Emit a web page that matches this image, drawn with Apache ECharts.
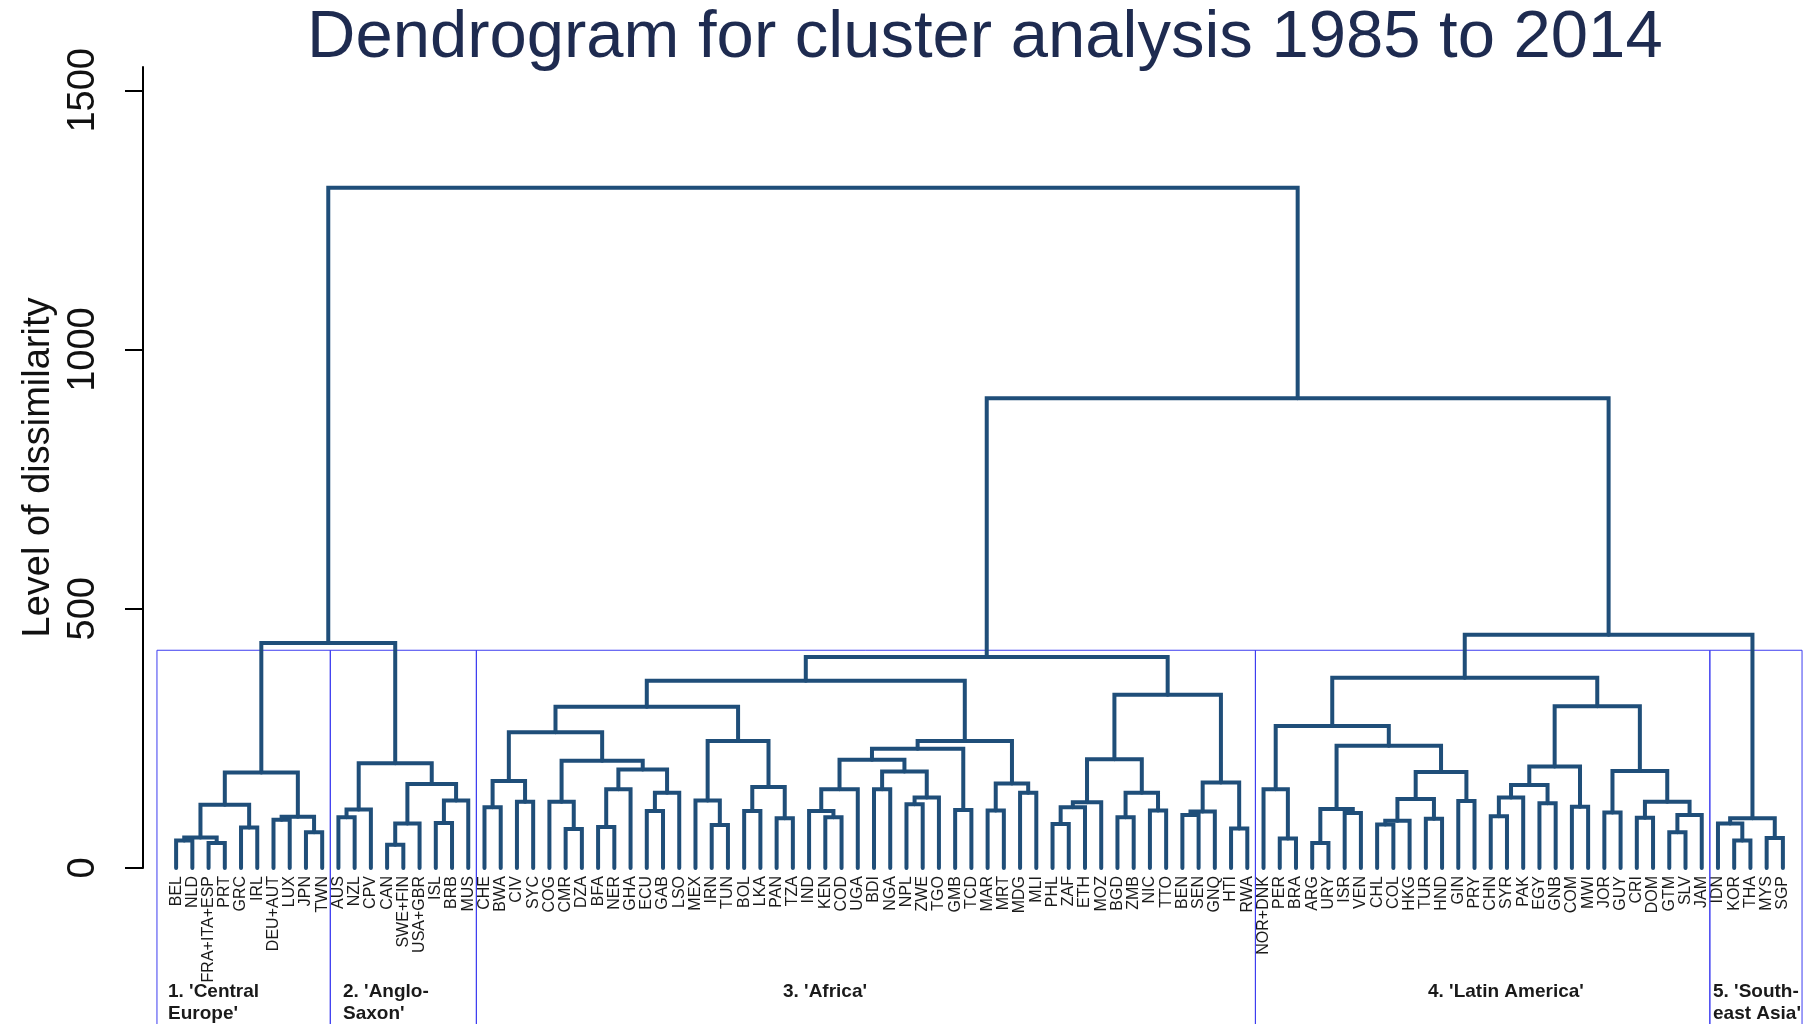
<!DOCTYPE html>
<html>
<head>
<meta charset="utf-8">
<title>Dendrogram for cluster analysis 1985 to 2014</title>
<script src="https://cdn.jsdelivr.net/npm/echarts@6.0.0/dist/echarts.min.js"></script>
<style>
html,body{margin:0;padding:0;background:#fff;}
#container{width:1810px;height:1024px;}
</style>
</head>
<body>
<div id="container"></div>
<script>
// leaves in plotted order
var leaves = [
  'BEL','NLD','FRA+ITA+ESP','PRT','GRC','IRL','DEU+AUT','LUX','JPN','TWN',
  'AUS','NZL','CPV','CAN','SWE+FIN','USA+GBR','ISL','BRB','MUS',
  'CHE','BWA','CIV','SYC','COG','CMR','DZA','BFA','NER','GHA','ECU','GAB','LSO','MEX','IRN','TUN','BOL','LKA','PAN','TZA',
  'IND','KEN','COD','UGA','BDI','NGA','NPL','ZWE','TGO','GMB','TCD','MAR','MRT','MDG','MLI',
  'PHL','ZAF','ETH','MOZ','BGD','ZMB','NIC','TTO','BEN','SEN','GNQ','HTI','RWA',
  'NOR+DNK','PER','BRA','ARG','URY','ISR','VEN','CHL','COL','HKG','TUR','HND','GIN','PRY',
  'CHN','SYR','PAK','EGY','GNB','COM','MWI','JOR','GUY','CRI','DOM','GTM','SLV','JAM',
  'IDN','KOR','THA','MYS','SGP'
];

// merges: [left, right, height]; a string is a leaf, a number is an earlier merge
var merges = [
  ['BEL','NLD',53], ['FRA+ITA+ESP','PRT',48], [0,1,59], ['GRC','IRL',78], [2,3,122],
  ['DEU+AUT','LUX',93], ['JPN','TWN',69], [5,6,99], [4,7,184],
  ['AUS','NZL',98], [9,'CPV',113], ['CAN','SWE+FIN',45], [11,'USA+GBR',86],
  ['ISL','BRB',87], [13,'MUS',130], [12,14,162], [10,15,202], [8,16,434],
  ['CHE','BWA',117], ['CIV','SYC',128], [18,19,168], ['CMR','DZA',75], ['COG',21,128],
  ['BFA','NER',79], [23,'GHA',152], ['ECU','GAB',110], [25,'LSO',145], [24,26,190],
  [22,27,207], [20,28,262], ['IRN','TUN',83], ['MEX',30,130], ['BOL','LKA',110],
  ['PAN','TZA',96], [32,33,156], [31,34,245], [29,35,311],
  ['KEN','COD',98], ['IND',37,110], [38,'UGA',152], ['BDI','NGA',152], ['NPL','ZWE',123],
  [41,'TGO',136], [40,42,186], [39,43,209], ['GMB','TCD',112], [44,45,230],
  ['MAR','MRT',111], ['MDG','MLI',145], [47,48,163], [46,49,245], [36,50,361],
  ['PHL','ZAF',85], [52,'ETH',117], [53,'MOZ',127], ['BGD','ZMB',98], ['NIC','TTO',111],
  [55,56,145], [54,57,210], ['BEN','SEN',102], [59,'GNQ',109], ['HTI','RWA',76],
  [60,61,165], [58,62,334], [51,63,407],
  ['PER','BRA',57], ['NOR+DNK',65,152], ['ARG','URY',48], ['ISR','VEN',106], [67,68,114],
  ['CHL','COL',84], [70,'HKG',91], ['TUR','HND',95], [71,72,133], ['GIN','PRY',129],
  [73,74,185], [69,75,236], [66,76,274],
  ['CHN','SYR',100], [78,'PAK',136], ['EGY','GNB',125], [79,80,160], ['COM','MWI',118],
  [81,82,196], ['JOR','GUY',107], ['CRI','DOM',97], ['GTM','SLV',69], [86,'JAM',102],
  [85,87,128], [84,88,187], [83,89,312], [77,90,367],
  ['KOR','THA',53], ['IDN',92,86], ['MYS','SGP',58], [93,94,96], [91,95,450],
  [64,96,906], [17,97,1312]
];

var clusterNames = ["1. 'Central\nEurope'", "2. 'Anglo-\nSaxon'", "3. 'Africa'", "4. 'Latin America'", "5. 'South-\neast Asia'"];
var clusterSizes = [10, 9, 48, 28, 5];
var cutHeight = 420;
var yTicks = [0, 500, 1000, 1500];

// dendrogram layout: leaf index on x, merge height on y
var leafPos = {};
leaves.forEach(function (n, i) { leafPos[n] = i; });
var nodeX = [], nodeH = [], links = [];
function pos(ref) {
  return typeof ref === 'string' ? [leafPos[ref], 0] : [nodeX[ref], nodeH[ref]];
}
merges.forEach(function (m, k) {
  var a = pos(m[0]), b = pos(m[1]);
  nodeX[k] = (a[0] + b[0]) / 2;
  nodeH[k] = m[2];
  links.push([a[0], a[1], b[0], b[1], m[2]]);
});

var boxes = [], start = 0;
clusterSizes.forEach(function (s) {
  boxes.push([start - 0.5, start + s - 0.5]);
  start += s;
});

var lineColor = '#1f4e79';
var boxPad = 0.68;
var clusterFont = 'bold 19px Liberation Sans';

var dom = document.getElementById('container');
var myChart = echarts.init(dom);
var option = {
  backgroundColor: '#fff',
  animation: false,
  title: {
    text: 'Dendrogram for cluster analysis 1985 to 2014',
    left: 302,
    top: 0,
    textStyle: { fontFamily: 'Liberation Sans', fontSize: 67, fontWeight: 'normal', color: '#1e2b50' }
  },
  grid: { left: 168, right: 19, top: 67, bottom: 156 },
  xAxis: [{
    type: 'category',
    data: leaves,
    boundaryGap: true,
    axisLine: { show: false },
    axisTick: { show: false },
    axisLabel: { interval: 0, rotate: 90, margin: 8, fontSize: 16, fontFamily: 'Liberation Sans', color: '#1a1a1a' }
  }, {
    type: 'value', min: -0.5, max: 99.5, show: false
  }],
  yAxis: {
    type: 'value',
    min: 0,
    max: 1545,
    offset: 25,
    name: 'Level of dissimilarity',
    nameLocation: 'middle',
    nameRotate: 90,
    nameGap: 83,
    nameTextStyle: { fontFamily: 'Liberation Sans', fontSize: 38, color: '#111' },
    axisLine: { show: true, onZero: false, lineStyle: { color: '#000', width: 2 } },
    axisTick: { show: true, length: 18, lineStyle: { color: '#000', width: 2 }, customValues: yTicks },
    axisLabel: {
      rotate: 90, margin: 40, fontSize: 38, fontFamily: 'Liberation Sans', color: '#111',
      customValues: yTicks,
      formatter: function (v) { return yTicks.indexOf(v) >= 0 ? String(v) : ''; }
    },
    splitLine: { show: false }
  },
  series: [{
    type: 'custom',
    xAxisIndex: 1,
    z: 1,
    data: boxes,
    encode: { x: [0, 1] },
    renderItem: function (params, api) {
      var x0 = api.value(0) - (params.dataIndex === 0 ? boxPad : 0);
      var x1 = api.value(1) + (params.dataIndex === boxes.length - 1 ? boxPad : 0);
      var p0 = api.coord([x0, cutHeight]);
      var p1 = api.coord([x1, -400]);
      return {
        type: 'rect',
        shape: { x: p0[0], y: p0[1], width: p1[0] - p0[0], height: p1[1] - p0[1] },
        style: { fill: null, stroke: '#3c3cf0', lineWidth: 1 }
      };
    }
  }, {
    type: 'custom',
    xAxisIndex: 1,
    z: 2,
    data: links,
    encode: { x: [0, 2], y: [1, 3, 4] },
    renderItem: function (params, api) {
      var pts = [
        api.coord([api.value(0), api.value(1)]),
        api.coord([api.value(0), api.value(4)]),
        api.coord([api.value(2), api.value(4)]),
        api.coord([api.value(2), api.value(3)])
      ];
      return {
        type: 'polyline',
        shape: { points: pts },
        style: { stroke: lineColor, lineWidth: 4, fill: null, lineJoin: 'miter', lineCap: 'round' }
      };
    }
  }],
  graphic: [
    { type: 'text', left: 168, top: 981, style: { text: clusterNames[0], font: clusterFont, lineHeight: 22, fill: '#1a1a1a' } },
    { type: 'text', left: 343, top: 981, style: { text: clusterNames[1], font: clusterFont, lineHeight: 22, fill: '#1a1a1a' } },
    { type: 'text', left: 783, top: 981, style: { text: clusterNames[2], font: clusterFont, lineHeight: 22, fill: '#1a1a1a' } },
    { type: 'text', left: 1428, top: 981, style: { text: clusterNames[3], font: clusterFont, lineHeight: 22, fill: '#1a1a1a' } },
    { type: 'text', left: 1713, top: 981, style: { text: clusterNames[4], font: clusterFont, lineHeight: 22, fill: '#1a1a1a' } }
  ]
};
myChart.setOption(option, true);
</script>
</body>
</html>
